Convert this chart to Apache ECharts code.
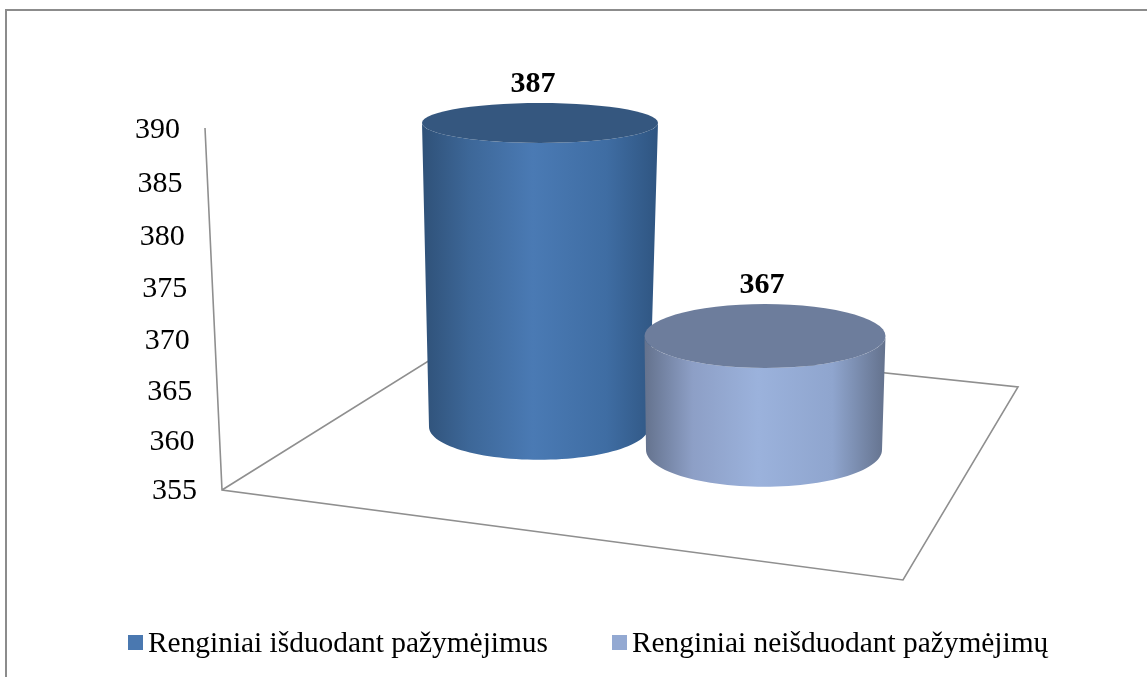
<!DOCTYPE html>
<html>
<head>
<meta charset="utf-8">
<style>
  html, body { margin: 0; padding: 0; background: #fff; }
  #main { width: 1147px; height: 677px; }
</style>
<script src="https://cdn.jsdelivr.net/npm/echarts@6/dist/echarts.min.js"></script>
</head>
<body>
<div id="main"></div>
<script>
const seriesNames = ['Renginiai išduodant pažymėjimus', 'Renginiai neišduodant pažymėjimų']
const seriesValues = [387, 367]
const categories = ['a', 'b']
const tickLabels = [355, 360, 365, 370, 375, 380, 385, 390]

const FONT = '"Liberation Serif", "Times New Roman", serif'
const AXIS_MIN = 355
const AXIS_MAX = 390

// per cylinder look: perspective makes top and bottom ellipses differ
const cylinders = [
  {
    legend: '#4a78b0',
    topRx: 118, topRy: 20, baseRx: 110, baseRy: 33, baseDrop: -37, labelDx: -7,
    top: '#35577f',
    side: ['#2f5178', '#3d6798', '#4a7ab4', '#3f6da3', '#2f5581']
  },
  {
    legend: '#93a9d2',
    topRx: 120.5, topRy: 32, baseRx: 118, baseRy: 37, baseDrop: -14, labelDx: -3,
    top: '#6d7d9c',
    side: ['#64728d', '#8d9fc6', '#9bb2dc', '#8fa5ce', '#64728d']
  }
]

const myChart = echarts.init(document.getElementById('main'))

function ellipseArc(cx, cy, rx, ry, from, to) {
  const pts = []
  for (let i = 0; i <= 60; i++) {
    const a = from + (to - from) * i / 60
    pts.push([cx + rx * Math.cos(a), cy + ry * Math.sin(a)])
  }
  return pts
}

// draw one cylinder from its value
function renderCylinder(idx) {
  return function (params, api) {
    const c = cylinders[idx]
    const top = api.coord([api.value(0), api.value(1)])
    const base = api.coord([api.value(0), AXIS_MIN])
    const baseY = base[1] + c.baseDrop
    const baseX = top[0] - 1
    const side = ellipseArc(top[0], top[1], c.topRx, c.topRy, Math.PI, 0)
      .concat(ellipseArc(baseX, baseY, c.baseRx, c.baseRy, 0, Math.PI))
    const stops = c.side.map((color, i) => ({ offset: [0, 0.2, 0.47, 0.78, 1][i], color }))
    return {
      type: 'group',
      children: [
        {
          type: 'polygon',
          shape: { points: side },
          style: { fill: new echarts.graphic.LinearGradient(0, 0, 1, 0, stops) }
        },
        {
          type: 'polygon',
          shape: { points: ellipseArc(top[0], top[1], c.topRx, c.topRy, 0, Math.PI * 2) },
          style: { fill: c.top }
        },
        {
          type: 'text',
          style: {
            x: top[0] + c.labelDx,
            y: top[1] - c.topRy - 19,
            text: String(api.value(1)),
            font: 'bold 30px ' + FONT,
            fill: '#000',
            align: 'center',
            verticalAlign: 'middle'
          }
        }
      ]
    }
  }
}

// tick labels follow the slanted wall
function renderTick(params, api) {
  const v = api.value(0)
  const p = api.coord([v, v])
  const t = (v - AXIS_MIN) / (AXIS_MAX - AXIS_MIN)
  return {
    type: 'text',
    style: {
      x: p[0],
      y: p[1] + 20 * t * (1 - t),
      text: String(v),
      font: '30px ' + FONT,
      fill: '#000',
      align: 'right',
      verticalAlign: 'middle'
    }
  }
}

const lineStyle = { stroke: '#8f8f8f', lineWidth: 1.6, fill: null }

const option = {
  animation: false,
  backgroundColor: '#fff',
  grid: [
    { left: 180, top: 130, width: 17, height: 361 },
    { left: 427.5, top: 91, width: 450, height: 372.8 }
  ],
  xAxis: [
    { type: 'value', gridIndex: 0, min: AXIS_MIN, max: AXIS_MAX, inverse: true, show: false },
    { type: 'category', gridIndex: 1, data: categories, show: false }
  ],
  yAxis: [
    { type: 'value', gridIndex: 0, min: AXIS_MIN, max: AXIS_MAX, interval: 5, show: false },
    { type: 'value', gridIndex: 1, min: AXIS_MIN, max: AXIS_MAX, show: false }
  ],
  legend: {
    data: seriesNames,
    left: 123,
    top: 625,
    icon: 'rect',
    itemWidth: 15,
    itemHeight: 15,
    itemGap: 64,
    formatter: name => '{a|' + name + '}',
    textStyle: {
      rich: { a: { fontFamily: FONT, fontSize: 29.4, color: '#000', padding: [4, 0, 0, 0] } }
    }
  },
  graphic: [
    { type: 'polyline', shape: { points: [[6, 690], [6, 10], [1150, 10]] }, style: { stroke: '#8c8c8c', lineWidth: 2, fill: null } },
    { type: 'polyline', shape: { points: [[205, 128], [222, 490], [903, 580], [1018, 387], [478, 330], [222, 490]] }, style: lineStyle }
  ],
  series: [
    {
      name: 'ticks',
      type: 'custom',
      xAxisIndex: 0,
      yAxisIndex: 0,
      silent: true,
      data: tickLabels.map(v => [v]),
      encode: { x: 0, y: 0 },
      renderItem: renderTick
    },
    {
      name: seriesNames[0],
      type: 'custom',
      xAxisIndex: 1,
      yAxisIndex: 1,
      clip: false,
      itemStyle: { color: cylinders[0].legend },
      data: [[0, seriesValues[0]]],
      encode: { x: 0, y: 1 },
      renderItem: renderCylinder(0)
    },
    {
      name: seriesNames[1],
      type: 'custom',
      xAxisIndex: 1,
      yAxisIndex: 1,
      clip: false,
      itemStyle: { color: cylinders[1].legend },
      data: [[1, seriesValues[1]]],
      encode: { x: 0, y: 1 },
      renderItem: renderCylinder(1)
    }
  ]
}

myChart.setOption(option)
</script>
</body>
</html>
